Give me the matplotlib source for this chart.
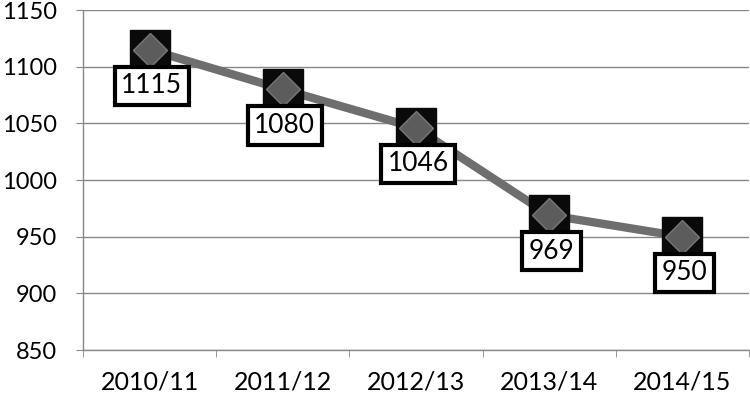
import matplotlib
matplotlib.use("Agg")
import matplotlib.pyplot as plt

categories = ["2010/11", "2011/12", "2012/13", "2013/14", "2014/15"]
values = [1115, 1080, 1046, 969, 950]
yticks = [850, 900, 950, 1000, 1050, 1100, 1150]

plt.rcParams['font.family'] = ['Lato', 'DejaVu Sans']

fig = plt.figure(figsize=(7.5, 4), dpi=100)
ax = fig.add_axes([83/750, 50/400, 666/750, 340/400])

x = list(range(len(categories)))
ax.plot(x, values, color="#6e6e6e", lw=6, zorder=3, solid_capstyle="butt")
ax.plot(x, values, ls="none", marker="s", ms=29, mfc="#0a0a0a", mec="#0a0a0a", zorder=4)
ax.plot(x, values, ls="none", marker="D", ms=17, mfc="#5c5c5c", mec="#777777", mew=1, zorder=5)

for xi, v in zip(x, values):
    ax.annotate(str(v), (xi, v), xytext=(1.5, -26), textcoords="offset points",
                ha="center", va="center", fontsize=19, color="black", zorder=6,
                bbox=dict(boxstyle="square,pad=0.25", fc="white", ec="black", lw=3))

ax.set_xlim(-0.5, len(categories) - 0.5)
ax.set_ylim(850, 1150)
ax.set_yticks(yticks)
ax.set_xticks(x)
ax.set_xticklabels(categories)
ax.set_xticks([i - 0.5 for i in range(len(categories) + 1)], minor=True)
ax.tick_params(axis="x", which="major", length=0, pad=15, labelsize=18)
ax.tick_params(axis="x", which="minor", length=5, color="#888888")
ax.tick_params(axis="y", length=5, color="#888888", pad=14, labelsize=17)
ax.yaxis.grid(True, color="#888888", lw=1)
ax.set_axisbelow(True)
for s in ["top", "right"]:
    ax.spines[s].set_visible(False)
for s in ["left", "bottom"]:
    ax.spines[s].set_color("#888888")
    ax.spines[s].set_linewidth(1)

fig.savefig("out.png", dpi=100)
